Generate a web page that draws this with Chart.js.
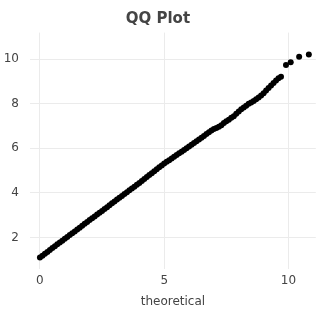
<!DOCTYPE html>
<html>
<head>
<meta charset="utf-8">
<script src="https://cdn.jsdelivr.net/npm/chart.js@4/dist/chart.umd.min.js"></script>
<style>
html,body{margin:0;padding:0;background:#fff;}
#wrap{width:320px;height:320px;}
</style>
</head>
<body>
<div id="wrap"><canvas id="c" width="320" height="320"></canvas></div>
<script>
// theoretical quantiles (x) and sample quantiles (y)
const theoretical = [
0.0,0.1,0.2,0.3,0.4,0.5,0.6,0.7,0.8,0.9,
1.0,1.1,1.2,1.3,1.4,1.5,1.6,1.7,1.8,1.9,
2.0,2.1,2.2,2.3,2.4,2.5,2.6,2.7,2.8,2.9,
3.0,3.1,3.2,3.3,3.4,3.5,3.6,3.7,3.8,3.9,
4.0,4.1,4.2,4.3,4.4,4.5,4.6,4.7,4.8,4.9,
5.0,5.1,5.2,5.3,5.4,5.5,5.6,5.7,5.8,5.9,
6.0,6.1,6.2,6.3,6.4,6.5,6.6,6.7,6.8,6.9,
7.0,7.1,7.2,7.3,7.4,7.5,7.6,7.7,7.8,7.9,
8.0,8.1,8.2,8.3,8.4,8.5,8.6,8.7,8.8,8.9,
9.0,9.1,9.2,9.3,9.4,9.5,9.6,9.7,
9.90,10.09,10.43,10.82
];
const sample = [
1.10,1.18,1.27,1.35,1.44,1.52,1.60,1.69,1.77,1.85,
1.94,2.02,2.11,2.19,2.27,2.36,2.44,2.52,2.61,2.69,
2.78,2.86,2.94,3.03,3.11,3.19,3.28,3.36,3.45,3.53,
3.61,3.70,3.78,3.86,3.95,4.03,4.12,4.20,4.28,4.37,
4.45,4.54,4.62,4.71,4.80,4.88,4.97,5.06,5.15,5.23,
5.32,5.40,5.47,5.55,5.62,5.70,5.78,5.85,5.93,6.00,
6.08,6.16,6.24,6.32,6.40,6.48,6.56,6.64,6.72,6.80,
6.87,6.92,6.97,7.04,7.14,7.22,7.29,7.37,7.44,7.55,
7.66,7.76,7.84,7.92,8.00,8.06,8.13,8.21,8.29,8.37,
8.48,8.60,8.71,8.82,8.94,9.05,9.15,9.22,
9.75,9.87,10.12,10.22
];
const xTickValues = [0, 5, 10];
const yTickValues = [2, 4, 6, 8, 10];
const chartTitle = "QQ Plot";
const xAxisTitle = "theoretical";

const points = theoretical.map((x, i) => ({x: x, y: sample[i]}));

Chart.defaults.font.family = "'DejaVu Sans', sans-serif";
Chart.defaults.color = "#444";

new Chart(document.getElementById('c'), {
  type: 'scatter',
  data: {
    datasets: [{
      data: points,
      backgroundColor: '#000',
      borderColor: '#000',
      pointRadius: 3,
      pointHoverRadius: 3,
      borderWidth: 0
    }]
  },
  options: {
    responsive: false,
    animation: false,
    devicePixelRatio: 1,
    layout: {padding: {left: 0, right: 4.2, top: 0, bottom: 0}},
    plugins: {
      legend: {display: false},
      tooltip: {enabled: false},
      title: {
        display: true,
        text: chartTitle,
        color: '#444',
        font: {size: 15, weight: 'bold', family: "'DejaVu Sans', sans-serif"},
        padding: {top: 10.5, bottom: 4.1}
      }
    },
    scales: {
      x: {
        type: 'linear',
        min: -0.4,
        max: 11.1,
        afterBuildTicks: (s) => { s.ticks = xTickValues.map(v => ({value: v})); },
        afterFit: (s) => { s.height = 51.4; },
        grid: {color: '#ebebeb', drawTicks: false, lineWidth: 1},
        border: {display: false},
        ticks: {padding: 5, font: {size: 12}, color: '#444', maxRotation: 0},
        title: {display: true, text: xAxisTitle, color: '#444', font: {size: 12}, padding: {top: 0, bottom: 11.3}}
      },
      y: {
        type: 'linear',
        min: 0.6,
        max: 11.2,
        afterBuildTicks: (s) => { s.ticks = yTickValues.map(v => ({value: v})); },
        afterFit: (s) => { s.width = 30; },
        grid: {color: '#ebebeb', drawTicks: false, lineWidth: 1},
        border: {display: false},
        ticks: {padding: 11, font: {size: 12}, color: '#444'}
      }
    }
  }
});
</script>
</body>
</html>
